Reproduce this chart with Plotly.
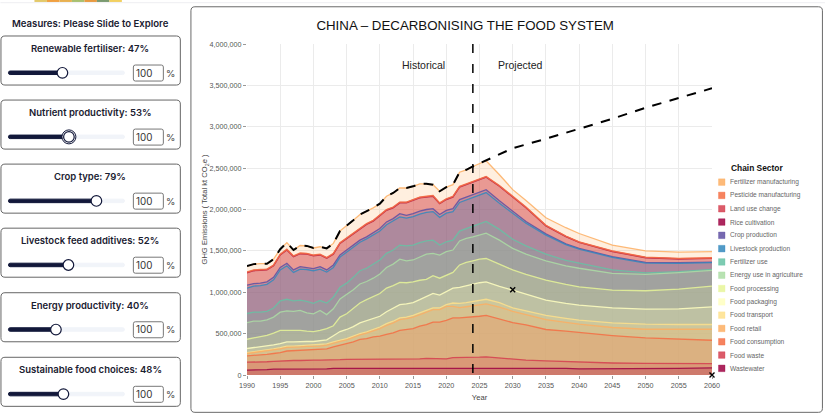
import plotly.graph_objects as go

W, H = 825, 416
L, R, T, B = 246.7, 712.0, 44.0, 374.7

years = list(range(1990, 2027)) + [2028, 2030, 2032, 2035, 2038, 2040, 2045, 2050, 2055, 2060]

sectors = ["Fertilizer manufacturing", "Pesticide manufacturing", "Land use change", "Rice cultivation",
           "Crop production", "Livestock production", "Fertilizer use", "Energy use in agriculture",
           "Food processing", "Food packaging", "Food transport", "Food retail", "Food consumption",
           "Food waste", "Wastewater"]
colors = ["#fdae61", "#f46d43", "#d53e4f", "#9e0142", "#5e4fa2", "#3288bd", "#66c2a5", "#abdda4",
          "#e6f598", "#ffffbf", "#fee08b", "#fdae61", "#f46d43", "#d53e4f", "#9e0142"]
draw_order = [0, 3, 2, 1, 4, 5, 6, 7, 8, 9, 10, 11, 12, 13, 14]

# Cumulative top of each sector, in thousand kt
fertilizer_manufacturing = [1316,1340,1345,1345,1400,1520,1600,1510,1565,1560,1535,1550,1530,1590,1740,1800,1870,1940,1980,2020,2070,2160,2200,2260,2260,2280,2310,2310,2300,2220,2270,2300,2450,2480,2520,2555,2590,
                            2420,2240,2110,1900,1780,1710,1570,1500,1486,1490]
pesticide_manufacturing = [1245,1270,1275,1280,1330,1460,1520,1440,1475,1470,1450,1460,1420,1470,1600,1660,1720,1780,1830,1870,1930,2000,2030,2090,2090,2120,2150,2160,2170,2080,2130,2160,2280,2310,2340,2370,2400,
                           2290,2160,2030,1810,1680,1610,1500,1425,1410,1417]
land_use_change = [1240,1265,1270,1275,1325,1455,1515,1435,1470,1465,1445,1455,1415,1465,1595,1655,1715,1775,1825,1865,1925,1995,2025,2085,2085,2115,2145,2155,2165,2075,2125,2155,2275,2305,2335,2365,2395,
                   2285,2155,2025,1806,1676,1606,1496,1421,1406,1413]
rice_cultivation = [1235,1260,1265,1270,1320,1450,1510,1430,1465,1460,1440,1450,1410,1460,1590,1650,1710,1770,1820,1860,1920,1990,2020,2080,2080,2110,2140,2150,2160,2070,2120,2150,2270,2300,2330,2360,2390,
                    2280,2150,2020,1802,1672,1602,1492,1417,1402,1409]
crop_production = [1085,1105,1110,1125,1180,1300,1350,1270,1310,1300,1285,1310,1270,1330,1450,1510,1570,1630,1670,1720,1770,1850,1890,1950,1930,1950,1980,2000,2010,1940,1990,2010,2120,2150,2180,2210,2240,
                   2105,1975,1855,1705,1585,1530,1430,1360,1357,1365]
livestock_production = [1050,1075,1080,1095,1150,1270,1320,1240,1280,1275,1260,1280,1245,1300,1425,1485,1545,1605,1645,1695,1740,1815,1860,1910,1895,1915,1945,1965,1975,1905,1955,1975,2085,2115,2145,2175,2205,
                        2075,1950,1835,1690,1575,1520,1422,1352,1350,1358]
fertilizer_use = [743,760,760,770,810,895,915,895,905,890,865,900,870,940,1060,1110,1180,1260,1290,1340,1390,1470,1510,1570,1560,1570,1600,1620,1630,1570,1610,1630,1740,1770,1800,1830,1855,
                  1760,1640,1560,1460,1385,1350,1270,1235,1250,1276]
energy_use_in_agriculture = [634,650,650,665,700,760,775,770,780,750,740,780,730,800,920,970,1030,1100,1130,1170,1220,1300,1340,1400,1380,1390,1430,1460,1470,1450,1490,1510,1620,1650,1670,1690,1715,
                             1630,1530,1460,1380,1320,1290,1228,1215,1236,1264]
food_processing = [432,445,460,480,505,540,540,540,540,530,525,540,560,595,700,740,800,870,910,950,985,1050,1080,1120,1115,1125,1145,1155,1200,1170,1210,1240,1330,1360,1380,1400,1408,
                   1340,1270,1215,1147,1095,1066,1026,1018,1038,1074]
food_packaging = [320,330,345,355,365,380,400,400,405,405,405,415,425,475,525,550,585,630,655,680,710,765,810,850,860,875,910,945,985,965,1010,1050,1060,1080,1100,1115,1125,
                  1070,1026,975,905,865,844,812,796,800,824]
food_transport = [270,280,290,300,315,330,350,350,355,360,360,365,375,400,420,440,470,500,520,550,580,620,650,690,700,720,750,780,810,810,850,870,865,875,890,905,915,
                  875,810,775,720,685,662,630,614,610,610]
food_retail = [260,270,280,290,300,315,335,335,340,345,345,350,360,385,405,425,455,485,505,530,560,600,630,670,680,700,730,760,790,790,830,830,815,825,835,850,860,
               820,770,730,670,635,614,574,553,553,553]
food_consumption = [230,235,245,250,260,270,290,295,300,305,310,315,315,340,360,380,400,430,440,460,470,490,510,540,550,560,590,610,640,640,660,690,690,695,705,710,720,
                    680,634,605,550,530,513,477,448,432,420]
food_waste = [155,155,160,160,165,170,170,175,175,180,180,180,180,180,185,190,190,190,190,190,190,195,195,195,195,195,195,200,200,200,195,210,210,210,215,215,220,
              205,190,180,170,162,157,145,140,138,137]
wastewater = [60,60,60,65,70,70,75,75,75,75,75,75,75,80,80,80,80,80,80,80,80,85,85,85,80,80,80,80,80,80,80,85,85,85,85,85,85,
              85,85,84,83,80,75,75,80,80,85]
tops = [fertilizer_manufacturing, pesticide_manufacturing, land_use_change, rice_cultivation, crop_production,
        livestock_production, fertilizer_use, energy_use_in_agriculture, food_processing, food_packaging,
        food_transport, food_retail, food_consumption, food_waste, wastewater]

bau_years = list(range(1990, 2027)) + [2028, 2030, 2035, 2040, 2045, 2050, 2055, 2060]
bau_values = fertilizer_manufacturing[:37] + [2665, 2740, 2855, 2975, 3096, 3230, 3350, 3465]

marker_years = [2030, 2060]
marker_values = [1030, 0]
divider_year = 2024

y_ticks = list(range(0, 4000001, 500000))
x_ticks = list(range(1990, 2061, 5))

measures = ["Renewable fertiliser", "Nutrient productivity", "Crop type",
            "Livestock feed additives", "Energy productivity", "Sustainable food choices"]
measure_pct = [47, 53, 79, 52, 40, 48]
knob_x = [62, 68.5, 96, 68, 55.5, 63]
panel_tops = [36, 100, 164, 228, 292.5, 357]
banner_colors = ["#e3c96a", "#f0a040", "#e8b050", "#a8c070", "#e89a40", "#7a9a70", "#f2d060"]


def rgba(hexc, a):
    return f"rgba({int(hexc[1:3],16)},{int(hexc[3:5],16)},{int(hexc[5:7],16)},{a})"


fig = go.Figure()
for i in draw_order:
    name, col, top = sectors[i], colors[i], tops[i]
    fig.add_trace(go.Scatter(x=years, y=[v * 1000 for v in top], name=name, mode="lines",
                             line=dict(color=rgba(col, 0.85), width=1.3), fill="tozeroy",
                             fillcolor=rgba(col, 0.2), showlegend=False, hoverinfo="skip"))
fig.add_trace(go.Scatter(x=bau_years, y=[v * 1000 for v in bau_values], mode="lines", showlegend=False,
                         line=dict(color="#000", width=2, dash="9.5px,8.5px"), hoverinfo="skip"))
fig.add_trace(go.Scatter(x=[divider_year, divider_year], y=[4000000, 0], mode="lines", showlegend=False,
                         line=dict(color="#000", width=1.5, dash="9px,11px"), hoverinfo="skip"))
fig.add_trace(go.Scatter(x=marker_years, y=[v * 1000 for v in marker_values], mode="markers", showlegend=False,
                         cliponaxis=False, marker=dict(symbol="x-thin", size=5, color="#000",
                                                       line=dict(color="#000", width=1.4)), hoverinfo="skip"))

px = lambda x: (x - L) / (R - L)
py = lambda y: (B - y) / (B - T)
SANS = "Liberation Sans"
UI = "Inter"
shapes, ann = [], []


def rrect(x0, y0, x1, y1, r, line="#666", fill="#fff", w=1, layer="below"):
    p = (f"M {px(x0+r)} {py(y0)} L {px(x1-r)} {py(y0)} Q {px(x1)} {py(y0)} {px(x1)} {py(y0+r)} "
         f"L {px(x1)} {py(y1-r)} Q {px(x1)} {py(y1)} {px(x1-r)} {py(y1)} L {px(x0+r)} {py(y1)} "
         f"Q {px(x0)} {py(y1)} {px(x0)} {py(y1-r)} L {px(x0)} {py(y0+r)} Q {px(x0)} {py(y0)} {px(x0+r)} {py(y0)} Z")
    shapes.append(dict(type="path", path=p, xref="paper", yref="paper", fillcolor=fill,
                       line=dict(color=line, width=w), layer=layer))


def circ(cx, cy, r, line, fill, w):
    shapes.append(dict(type="circle", xref="paper", yref="paper", x0=px(cx - r), x1=px(cx + r), y0=py(cy + r),
                       y1=py(cy - r), fillcolor=fill, line=dict(color=line, width=w), layer="above"))


def box(x0, y0, x1, y1, fill):
    shapes.append(dict(type="rect", xref="paper", yref="paper", x0=px(x0), x1=px(x1), y0=py(y1), y1=py(y0),
                       fillcolor=fill, line=dict(width=0), layer="below"))


def text(x, y, s, size, color="#222", family=SANS, anchor="left", weight=None):
    ann.append(dict(xref="paper", yref="paper", x=px(x), y=py(y), text=s, showarrow=False, xanchor=anchor,
                    yanchor="middle", align=anchor, borderpad=0, borderwidth=0,
                    font=dict(size=size, color=color, family=family, weight=weight)))


# page pieces
box(0, 2, 825, 3.2, "#f1f1f4")
for i, c in enumerate(banner_colors):
    box(34 + i * 12.5, 0, 34 + (i + 1) * 12.5, 2, c)
rrect(190.6, 6.8, 822.5, 412, 4, line="#6a6a6a")
text(12, 24, "Measures: Please Slide to Explore", 9.6, "#1a2030", UI, "left", 600)
for name, pct, kx, top in zip(measures, measure_pct, knob_x, panel_tops):
    rrect(0.5, top, 180, top + 49, 4)
    text(90, top + 12.5, f"{name}: {pct}%", 9.5, "#1a2030", UI, "center", 600)
    rrect(8, top + 35, 124, top + 38.5, 1.7, line="#f1f4f9", fill="#f1f4f9", layer="above")
    rrect(8, top + 35, kx, top + 38.5, 1.7, line="#12183a", fill="#12183a", layer="above")
    if name == "Nutrient productivity":
        circ(kx, top + 36.8, 7, "#12183a", "#fff", 1)
    circ(kx, top + 36.8, 5.3, "#12183a", "#fff", 1.2)
    rrect(133, top + 29, 163, top + 45, 2, line="#777")
    text(135.5, top + 37, "100", 9.8, "#333", UI)
    text(165.5, top + 37, "%", 9.5, "#444", UI)

# chart text
text(402, 65, "Historical", 10.5, "#222")
text(498, 65, "Projected", 10.5, "#222")

# legend
text(731, 167.5, "<b>Chain Sector</b>", 8.4, "#111")
for i, (name, col) in enumerate(zip(sectors, colors)):
    y = 182 + i * 13.29
    shapes.append(dict(type="rect", xref="paper", yref="paper", x0=px(718.5), x1=px(725), y0=py(y + 3.3), y1=py(y - 3.3),
                       fillcolor=rgba(col, 0.85), line=dict(color=rgba(col, 0.35), width=1), layer="above"))
    text(730, y, name, 6.6, "#666")

fig.update_layout(
    width=W, height=H, autosize=False, paper_bgcolor="#fff", plot_bgcolor="#fff",
    margin=dict(l=L, r=W - R, t=T, b=H - B, pad=0), showlegend=False,
    shapes=shapes, annotations=ann, font=dict(family=SANS),
    title=dict(text="CHINA – DECARBONISING THE FOOD SYSTEM", font=dict(size=13.3, color="#111", family=SANS),
               xref="paper", x=px(465), xanchor="center", yref="container", y=1 - 25.5 / H, yanchor="middle"),
    xaxis=dict(range=[1990, 2060], tickvals=x_ticks, ticks="outside", ticklen=3, tickcolor="#999", tickfont=dict(size=7.2, color="#555"),
               showgrid=True, gridcolor="#ebebeb", gridwidth=1, zeroline=False, showline=False, tickangle=0,
               title=dict(text="Year", font=dict(size=7.6, color="#444", family=SANS), standoff=6)),
    yaxis=dict(range=[0, 4000000], tickvals=y_ticks, tickformat=",d", ticks="outside", ticklen=3, tickcolor="#999", tickfont=dict(size=7.2, color="#555"),
               showgrid=True, gridcolor="#ebebeb", gridwidth=1, zeroline=False, showline=False,
               title=dict(text="GHG Emissions ( Total kt CO<sub>2</sub>e )", font=dict(size=7.6, color="#444", family=SANS), standoff=0)),
)
fig.write_html("out.html", config={"displayModeBar": False},
               post_script="document.body.style.margin='0';document.body.style.overflow='hidden';")
